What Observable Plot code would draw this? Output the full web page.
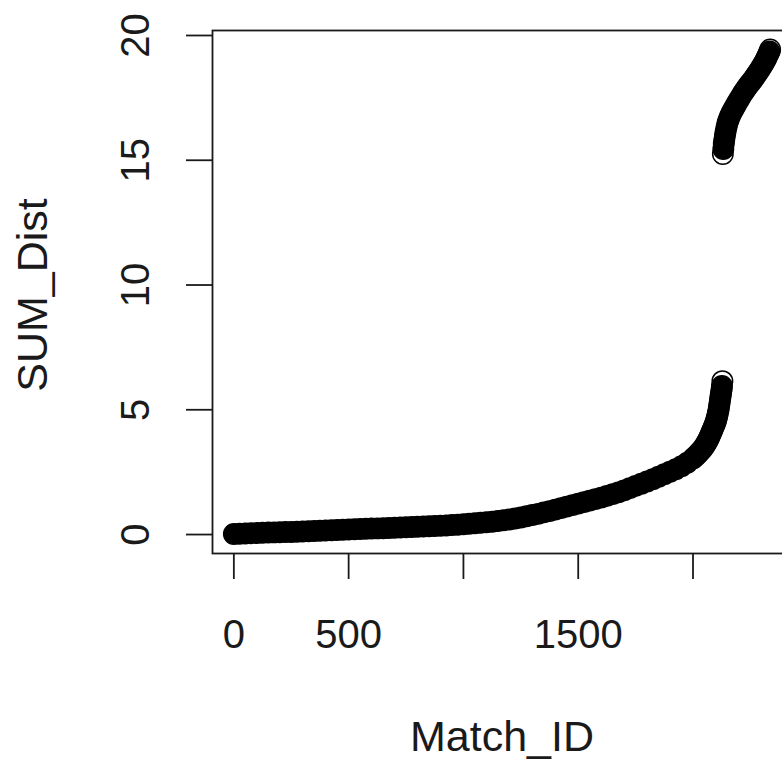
<!DOCTYPE html>
<html><head><meta charset="utf-8">
<script src="https://cdn.jsdelivr.net/npm/d3@7"></script>
<script src="https://cdn.jsdelivr.net/npm/@observablehq/plot@0.6"></script>
<style>
html,body{margin:0;padding:0;background:#fff;overflow:hidden;width:782px;height:763px}
svg{max-width:none!important}
</style>
</head><body><div id="chart"></div>
<script>
const matchId = [
  0,25,50,75,100,125,150,175,200,225,250,275,300,325,350,375,400,425,450,475,
  500,525,550,575,600,625,650,675,700,725,750,775,800,825,850,875,900,925,950,975,
  1000,1025,1050,1075,1100,1125,1150,1175,1200,1225,1250,1275,1300,1325,1350,1375,
  1400,1425,1450,1475,1500,1525,1550,1575,1600,1625,1650,1675,1700,1725,1750,1775,
  1800,1825,1850,1875,1900,1925,1950,1975,2000,2010,2020,2030,2040,2048,2055,2060,
  2065,2070,2075,2080,2085,2090,2095,2099,2102,2105,2108,2111,2113,2115,2117,2119,
  2121,2123,2125,2126,2128,
  2130,2132,2134,2136,2139,2142,2146,2150,2155,2161,2168,2175,2183,2191,2200,2209,
  2218,2227,2236,2245,2254,2263,2272,2281,2290,2298,2306,2313,2319,2324,2329,2333,2336
];
const sumDist = [
  0.02,0.03,0.04,0.05,0.06,0.07,0.08,0.085,0.09,0.10,0.10,0.11,0.12,0.13,0.14,0.15,0.16,0.17,0.18,0.19,
  0.20,0.21,0.22,0.23,0.24,0.245,0.25,0.26,0.27,0.28,0.29,0.30,0.31,0.32,0.33,0.34,0.35,0.365,0.38,0.395,
  0.41,0.43,0.45,0.47,0.49,0.515,0.54,0.57,0.60,0.64,0.68,0.73,0.78,0.83,0.89,0.94,
  1.00,1.06,1.12,1.18,1.24,1.30,1.36,1.42,1.48,1.55,1.62,1.69,1.77,1.86,1.95,2.04,
  2.13,2.22,2.32,2.42,2.52,2.62,2.74,2.88,3.05,3.13,3.22,3.32,3.42,3.52,3.62,3.70,
  3.78,3.88,3.98,4.09,4.20,4.31,4.42,4.52,4.62,4.73,4.85,4.98,5.10,5.22,5.35,5.48,
  5.60,5.72,5.85,5.95,6.15,
  15.25,15.45,15.65,15.80,15.98,16.15,16.32,16.48,16.62,16.76,16.90,17.02,17.15,17.28,17.42,17.56,
  17.70,17.82,17.94,18.05,18.15,18.26,18.38,18.50,18.62,18.74,18.86,18.97,19.08,19.18,19.28,19.36,19.44
];
const xTicks = [0, 500, 1000, 1500, 2000];
const xTickLabels = ["0", "500", "", "1500", ""];
const yTicks = [0, 5, 10, 15, 20];
const yTickLabels = ["0", "5", "10", "15", "20"];
const xTitle = "Match_ID";
const yTitle = "SUM_Dist";

const data = matchId.map((id, i) => ({id, v: sumDist[i]}));
const isEnd = i => i === data.length - 1 ||
  (i < data.length - 1 && Math.abs(sumDist[i + 1] - sumDist[i]) > 5) ||
  (i > 0 && Math.abs(sumDist[i] - sumDist[i - 1]) > 5);
const solid = data.filter((d, i) => !isEnd(i));
const hollow = data.filter((d, i) => isEnd(i));
const xLab = new Map(xTicks.map((t, i) => [t, xTickLabels[i]]));
const yLab = new Map(yTicks.map((t, i) => [t, yTickLabels[i]]));

const font = "'Liberation Sans', Arial, Helvetica, sans-serif";
const fs = 40;
const fsTitle = 43;
const ink = "#1a1a1a";

const chart = Plot.plot({
  width: 800, height: 763,
  marginLeft: 212, marginRight: 9, marginTop: 30, marginBottom: 210,
  style: {fontFamily: font, background: "white", maxWidth: "none", overflow: "visible"},
  x: {domain: [-93, 2429], axis: null},
  y: {domain: [-0.76, 20.2], axis: null},
  marks: [
    Plot.frame({stroke: ink, strokeWidth: 1.8}),
    Plot.axisX(xTicks, {anchor: "bottom", tickSize: 26, tickFormat: () => "", label: null, stroke: ink, strokeWidth: 1.8}),
    Plot.axisY(yTicks, {anchor: "left", tickSize: 26, tickFormat: () => "", label: null, stroke: ink, strokeWidth: 1.8}),
    Plot.text(xTicks, {x: d => d, text: d => xLab.get(d), frameAnchor: "bottom", dy: 94, lineAnchor: "bottom", textAnchor: "middle", fontSize: fs, fill: ink}),
    Plot.text(yTicks, {y: d => d, text: d => yLab.get(d), frameAnchor: "left", dx: -64, rotate: -90, lineAnchor: "bottom", textAnchor: "middle", fontSize: fs, fill: ink}),
    Plot.text([xTitle], {text: d => d, frameAnchor: "bottom", dy: 197, lineAnchor: "bottom", textAnchor: "middle", fontSize: fsTitle, fill: ink}),
    Plot.text([yTitle], {text: d => d, frameAnchor: "left", dx: -166, dy: 3, rotate: -90, lineAnchor: "bottom", textAnchor: "middle", fontSize: fsTitle, fill: ink}),
    Plot.dot(solid, {x: "id", y: "v", r: 10.2, fill: "black", stroke: "black", strokeWidth: 1.5}),
    Plot.dot(hollow, {x: "id", y: "v", r: 10.2, fill: "none", stroke: "black", strokeWidth: 1.5})
  ]
});
document.getElementById("chart").appendChild(chart);
</script>
</body></html>
